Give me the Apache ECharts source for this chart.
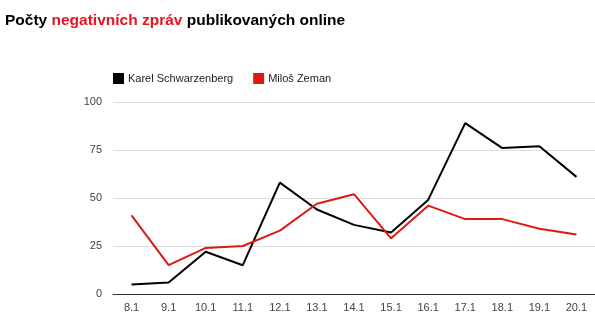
<!DOCTYPE html>
<html><head><meta charset="utf-8">
<script src="https://cdn.jsdelivr.net/npm/echarts@6/dist/echarts.min.js"></script>
<style>html,body{margin:0;padding:0;background:#fff}#c{width:595px;height:335px}</style>
</head><body><div id="c"></div>
<script>
const categories = ['8.1','9.1','10.1','11.1','12.1','13.1','14.1','15.1','16.1','17.1','18.1','19.1','20.1'];
const karel = [5, 6, 22, 15, 58, 44, 36, 32, 49, 89, 76, 77, 61];
const zeman = [41, 15, 24, 25, 33, 47, 52, 29, 46, 39, 39, 34, 31];
const yTicks = [0, 25, 50, 75, 100];

const chart = echarts.init(document.getElementById('c'));
chart.setOption({
  animation: false,
  title: {
    text: '{b|Počty }{r|negativních zpráv}{b| publikovaných online}',
    left: 0, top: 8,
    textStyle: {
      rich: {
        b: {fontFamily: 'Liberation Sans, Arial', fontWeight: 'bold', fontSize: 15.5, color: '#000'},
        r: {fontFamily: 'Liberation Sans, Arial', fontWeight: 'bold', fontSize: 15.5, color: '#e8141e'}
      }
    }
  },
  legend: {
    left: 108, top: 68,
    itemWidth: 11, itemHeight: 11, itemGap: 20,
    icon: 'rect',
    textStyle: {fontFamily: 'Liberation Sans, Arial', fontSize: 11, color: '#222', padding: [0,0,0,-1]},
    data: ['Karel Schwarzenberg', 'Miloš Zeman']
  },
  grid: {left: 113, right: -4, top: 102, bottom: 41, containLabel: false},
  xAxis: {
    type: 'category', data: categories, boundaryGap: true,
    axisLine: {lineStyle: {color: '#333', width: 1}},
    axisTick: {show: false},
    axisLabel: {fontFamily: 'Liberation Sans, Arial', fontSize: 11, color: '#444', margin: 8}
  },
  yAxis: {
    type: 'value', min: yTicks[0], max: yTicks[yTicks.length-1], interval: 25,
    axisLine: {show: false}, axisTick: {show: false},
    axisLabel: {fontFamily: 'Liberation Sans, Arial', fontSize: 11, color: '#444', margin: 11},
    splitLine: {lineStyle: {color: '#dcdcdc', width: 1}}
  },
  series: [
    {name: 'Karel Schwarzenberg', type: 'line', data: karel, symbol: 'none',
     itemStyle: {color: '#000'}, lineStyle: {color: '#000', width: 2}},
    {name: 'Miloš Zeman', type: 'line', data: zeman, symbol: 'none',
     itemStyle: {color: '#dc1a12'}, lineStyle: {color: '#dc1a12', width: 2}}
  ]
});
</script></body></html>
